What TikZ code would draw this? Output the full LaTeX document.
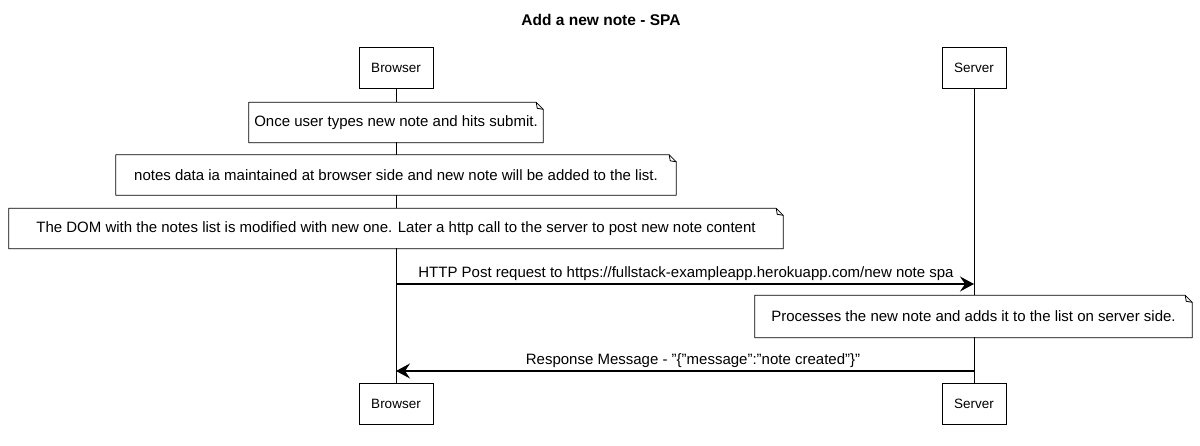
\documentclass[tikz,border=0pt]{standalone}
\usepackage{fontspec}
\setmainfont{Liberation Sans}
\usetikzlibrary{arrows.meta,calc}

% outline of a note with a folded top-right corner
\newcommand\foldnote[1]{%
  \draw[noteline] (#1.north west) -- ($(#1.north east)+(-7,0)$)
    -- ($(#1.north east)+(0,7)$) -- (#1.south east) -- (#1.south west) -- cycle;
  \draw[noteline] ($(#1.north east)+(-7,0)$) -- ($(#1.north east)+(-6,6)$)
    -- ($(#1.north east)+(0,7)$);}

\begin{document}
\begin{tikzpicture}[x=1pt,y=-1pt,
  actor/.style={draw, line width=0.8pt, fill=white, minimum width=74pt,
    minimum height=41pt, inner sep=0pt, font=\fontsize{13.5}{15}\selectfont},
  notebox/.style={fill=white, inner sep=0pt, minimum height=40pt,
    font=\fontsize{15}{17}\selectfont},
  noteline/.style={line width=0.8pt, line join=round},
  life/.style={line width=0.6pt},
  msg/.style={line width=1.1pt, -{Stealth[length=14pt,width=15pt,inset=5pt]}},
  lbl/.style={font=\fontsize{15}{17}\selectfont, inner sep=0pt, anchor=base},
]
\useasboundingbox (0,0) rectangle (1200,446);

% title
\node[font=\bfseries\fontsize{15.5}{17}\selectfont] (title) at (601,20) {Add a new note - SPA};

% participants, top and bottom
\node[actor] (bt) at (396,68) {Browser};
\node[actor, minimum width=64pt] (st) at (974,68) {Server};
\node[actor] (bb) at (396,404) {Browser};
\node[actor, minimum width=64pt] (sb) at (974,404) {Server};

% lifelines
\draw[life] (bt) -- (bb);
\draw[life] (st) -- (sb);

% browser-side notes
\node[notebox, minimum width=294pt] (n1) at (396,122.5)
  {Once user types new note and hits submit.};
\foldnote{n1}
\node[notebox, minimum width=560pt] (n2) at (396,175)
  {notes data ia maintained at browser side and new note will be added to the list.};
\foldnote{n2}
\node[notebox, minimum width=774pt] (n3) at (396,228.5)
  {The DOM with the notes list is modified with new one. Later a http call to the server to post new note content};
\foldnote{n3}

% request
\coordinate (reqa) at (bt.south |- 0,284);
\coordinate (reqb) at (st.south |- 0,284);
\draw[msg] (reqa) -- (reqb);
\node[lbl] (reqlbl) at (686,278)
  {HTTP Post request to https://fullstack-exampleapp.herokuapp.com/new note spa};

% server-side note
\node[notebox, minimum width=437pt, minimum height=42pt] (n4) at (973.5,316.5)
  {Processes the new note and adds it to the list on server side.};
\foldnote{n4}

% response
\coordinate (resa) at (sb.north |- 0,371);
\coordinate (resb) at (bb.north |- 0,371);
\draw[msg] (resa) -- (resb);
\node[lbl] (reslbl) at (693,365)
  {Response Message - "\{"message":"note created"\}"};
\end{tikzpicture}
\end{document}
